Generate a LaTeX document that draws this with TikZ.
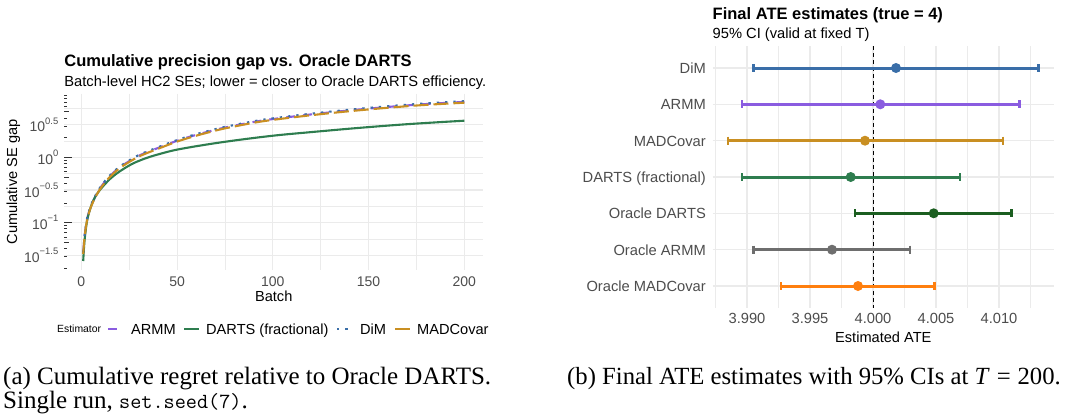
\documentclass[tikz,border=0pt]{standalone}
\usepackage{fontspec}
\usepackage{graphicx}
\setmainfont{Liberation Serif}
\newfontfamily\plotfont{Liberation Sans}

\definecolor{cArmm}{HTML}{8A5CE0}
\definecolor{cDarts}{HTML}{2E7D4F}
\definecolor{cDim}{HTML}{3A6EA8}
\definecolor{cMad}{HTML}{C98F22}
\definecolor{cOrDarts}{HTML}{1B5E20}
\definecolor{cOrArmm}{HTML}{6E6E6E}
\definecolor{cOrMad}{HTML}{FF7F0E}
\definecolor{gridgrey}{HTML}{EBEBEB}
\definecolor{axtext}{HTML}{4D4D4D}

\tikzset{
  gridmaj/.style={draw=gridgrey, line width=1.1pt},
  gridmin/.style={draw=gridgrey, line width=0.55pt},
  logtick/.style={draw=black!80, line width=0.9pt},
  ttl/.style={font=\plotfont\bfseries\fontsize{16.5}{19}\selectfont, anchor=base west, inner sep=0pt},
  subttl/.style={font=\plotfont\fontsize{14.7}{17}\selectfont, anchor=base west, inner sep=0pt},
  lticks/.style={font=\plotfont\fontsize{14}{16}\selectfont, text=axtext, inner sep=0pt},
  rticks/.style={font=\plotfont\fontsize{14.7}{17}\selectfont, text=axtext, inner sep=0pt},
  axttl/.style={font=\plotfont\fontsize{14.6}{17}\selectfont, inner sep=0pt},
  legtxt/.style={font=\plotfont\fontsize{14.6}{17}\selectfont, anchor=base west, inner sep=0pt},
  legttl/.style={font=\plotfont\fontsize{10.4}{12}\selectfont, anchor=base west, inner sep=0pt},
  curve/.style={line width=2.1pt, line join=round},
  armm/.style={curve, draw=cArmm, dash pattern=on 9pt off 8pt},
  darts/.style={curve, draw=cDarts},
  dim/.style={curve, draw=cDim, dash pattern=on 2.3pt off 6pt},
  mad/.style={curve, draw=cMad, dash pattern=on 15pt off 5pt},
  ebar/.style={line width=3pt},
  ecap/.style={line width=2.4pt},
  capt/.style={font=\fontsize{24.7}{25}\selectfont, anchor=base west, inner sep=0pt},
}

\begin{document}
\begin{tikzpicture}[x=1pt,y=-1pt]
\useasboundingbox (0,0) rectangle (1065,416);
\fill[white] (0,0) rectangle (1065,416);

%% ---------------- left panel: cumulative SE gap ----------------
\foreach \xx in {129.2,224.9,320.7,416.4}
  \draw[gridmin] (\xx,93.7) -- (\xx,270);
\foreach \yy in {108.3,141,173.6,206.3,238.9}
  \draw[gridmin] (64.2,\yy) -- (483.3,\yy);
\foreach \xx in {81.3,177.05,272.8,368.55,464.3}
  \draw[gridmaj] (\xx,93.7) -- (\xx,270);
\foreach \yy in {124.65,157.3,189.95,222.6,255.25}
  \draw[gridmaj] (64.2,\yy) -- (483.3,\yy);

% log ticks along the left edge
\foreach \k in {-2,-1,0}{
  \foreach \m in {1,...,9}{
    \pgfmathsetmacro\L{\k+log10(\m)}
    \pgfmathsetmacro\yy{157.3-65.3*\L}
    \pgfmathsetmacro\len{ifthenelse(\m==1,7.3,ifthenelse(\m==5,4.8,2.5))}
    \pgfmathtruncatemacro\ok{((\L>-1.72)&&(\L<0.97))?1:0}
    \ifnum\ok=1 \draw[logtick] (64.2,\yy) -- ++(\len,0); \fi
  }
}

% ARMM
\draw[armm, yshift=0.8pt] plot[smooth, tension=0.55] coordinates {
 (83.2,254) (84.5,238) (86.7,222) (89.2,212) (91.7,205) (96.5,195) (101.7,186.7)
 (107.5,179.5) (113.3,173.5) (120,168) (126.7,163.5) (140,156) (160,148)
 (176.7,141.7) (193.3,136.5) (210,132) (226.7,128) (260,121.7) (293.3,117.3)
 (326.7,113.5) (360,110.2) (393.3,107.3) (426.7,104.8) (464.3,102.7)};
% DARTS (fractional)
\draw[darts] plot[smooth, tension=0.55] coordinates {
 (83.2,261) (84.5,241) (86.7,223) (89.2,212) (93.3,200.5) (98,192.5) (103.3,186)
 (110,179) (116.7,173.5) (125,168) (133.3,163.3) (145,158.5) (156.7,154.8)
 (176.7,149.7) (210,144) (243.3,139.3) (276.7,135.3) (310,132.2) (360,127.8)
 (410,124) (464.3,120.7)};
% DiM
\draw[dim, yshift=1.5pt] plot[smooth, tension=0.55] coordinates {
 (83.2,254) (84.5,238) (86.7,222) (89.2,212) (91.7,205) (96.5,195) (101.7,186.7)
 (107.5,179.5) (113.3,173.5) (120,168) (126.7,163.5) (140,156) (160,148)
 (176.7,141.7) (193.3,136.5) (210,132) (226.7,128) (260,121.7) (293.3,117.3)
 (326.7,113.5) (360,110.2) (393.3,107.3) (426.7,104.8) (464.3,102.7)};
% MADCovar
\draw[mad] plot[smooth, tension=0.55] coordinates {
 (83.2,254) (84.5,238) (86.7,222) (89.2,212) (91.7,205) (96.5,195) (101.7,186.7)
 (107.5,179.5) (113.3,173.5) (120,168) (126.7,163.5) (140,156) (160,148)
 (176.7,141.7) (193.3,136.5) (210,132) (226.7,128) (260,121.7) (293.3,117.3)
 (326.7,113.5) (360,110.2) (393.3,107.3) (426.7,104.8) (464.3,102.7)};

% titles
\node[ttl] (ltitle) at (64.2,66.6) {Cumulative precision gap vs. Oracle DARTS};
\node[subttl] (lsub) at (64.2,86) {Batch-level HC2 SEs; lower = closer to Oracle DARTS efficiency.};

% axis labels
\foreach \b/\xx [count=\i] in {0/81.3,50/177.05,100/272.8,150/368.55,200/464.3}
  \node[lticks, anchor=base] (lx\i) at (\xx,286) {\b};
\foreach \lab/\yy [count=\i] in {0.5/124.65,0/157.3,−0.5/189.95,−1/222.6,−1.5/255.25}
  \node[lticks, anchor=east] (ly\i) at (58.5,\yy) {10\raisebox{0.55em}{\fontsize{9.4}{11}\selectfont\lab}};
\node[axttl, anchor=base] (lxlab) at (273.7,301.3) {Batch};
\node[axttl, rotate=90] (lylab) at (13.3,181.9) {Cumulative SE gap};

% legend
\node[legttl] (legT) at (57,332.7) {Estimator};
\draw[armm] (108,329) -- (124,329);
\node[legtxt] (legA) at (131,334.2) {ARMM};
\draw[darts] (184,329) -- (199,329);
\node[legtxt] (legB) at (206,334.2) {DARTS (fractional)};
\draw[dim] (337,329) -- (353,329);
\node[legtxt] (legC) at (360,334.2) {DiM};
\draw[mad] (395,329) -- (411,329);
\node[legtxt] (legD) at (417,334.2) {MADCovar};

%% ---------------- right panel: final ATE estimates ----------------
\foreach \xx in {715.5,778.5,841.5,904.5,967.5,1030.5}
  \draw[gridmin] (\xx,46.2) -- (\xx,307.8);
\foreach \xx in {747,810,873,936,999}
  \draw[gridmaj] (\xx,46.2) -- (\xx,307.8);
\foreach \yy in {68,104.3,140.7,177,213.3,249.7,286}
  \draw[gridmaj] (712.5,\yy) -- (1054,\yy);

\draw[black, line width=0.8pt, dash pattern=on 4pt off 3pt] (873,46.2) -- (873,307.8);

\foreach \nm/\lo/\pt/\hi/\yy/\col [count=\i] in {
  DiM/753.3/896/1038.3/68/cDim,
  ARMM/741.7/880.3/1019.3/104.3/cArmm,
  MADCovar/728/865/1002.7/140.7/cMad,
  DARTS (fractional)/741.7/850.7/959.7/177/cDarts,
  Oracle DARTS/855/933.7/1011.3/213.3/cOrDarts,
  Oracle ARMM/753.3/832/910/249.7/cOrArmm,
  Oracle MADCovar/781/858/934.3/286/cOrMad}{
  \draw[ebar, \col] (\lo,\yy) -- (\hi,\yy);
  \draw[ecap, \col] (\lo,\yy-4) -- (\lo,\yy+4);
  \draw[ecap, \col] (\hi,\yy-4) -- (\hi,\yy+4);
  \fill[\col] (\pt,\yy) circle [radius=5pt];
  \node[rticks, anchor=base east] (ry\i) at (706,\yy+5.3) {\nm};
}

\foreach \v/\xx [count=\i] in {3.990/747,3.995/810,4.000/873,4.005/936,4.010/999}
  \node[rticks, anchor=base] (rx\i) at (\xx,323.3) {\v};
\node[axttl, anchor=base] (rxlab) at (883.3,342.3) {Estimated ATE};

\node[ttl] (rtitle) at (712.5,19.1) {Final ATE estimates (true = 4)};
\node[subttl] (rsub) at (712.5,38.3) {95\% CI (valid at fixed T)};

%% ---------------- captions ----------------
\node[capt] (capa1) at (3,384) {\fontsize{25}{25}\selectfont(a) Cumulative regret relative to Oracle DARTS.};
\node[capt] (capa2) at (3,408) {\fontsize{25}{25}\selectfont Single run, {\ttfamily\fontsize{21.6}{25}\selectfont set.seed(7)}.};
\node[capt] (capb) at (567,384) {(b) Final ATE estimates with 95\% CIs at \textit{T}\hspace{0.28em}=\hspace{0.28em}200.};
\end{tikzpicture}
\end{document}
